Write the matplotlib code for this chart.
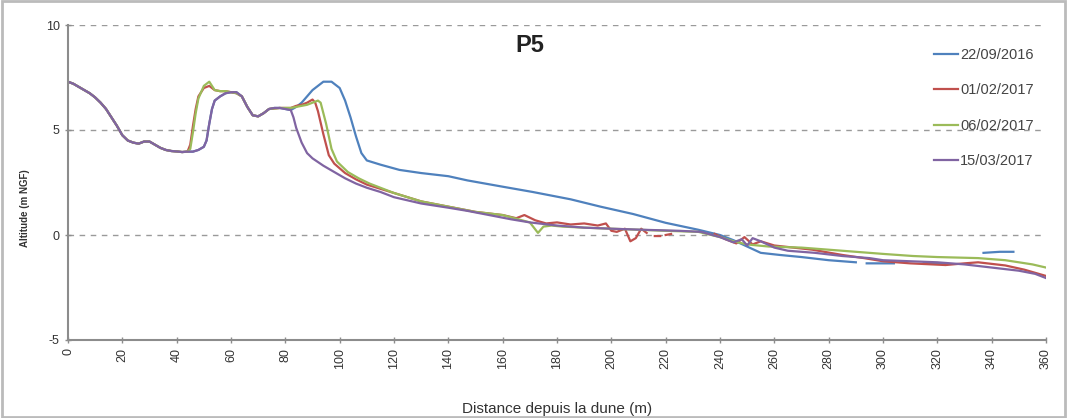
import numpy as np
import matplotlib
matplotlib.use("Agg")
import matplotlib.pyplot as plt
from matplotlib.patches import Rectangle

nan = np.nan

labels = ["22/09/2016", "01/02/2017", "06/02/2017", "15/03/2017"]
colors = ["#4F81BD", "#C0504D", "#9BBB59", "#8064A2"]

# 22/09/2016
x1 = [0, 2, 4, 6, 8, 10, 12, 14, 16, 18, 20, 22, 24, 26, 28, 30, 32, 34, 36, 38, 40, 42, 44,
      46, 48, 50, 51, 52, 53, 54, 56, 58, 60, 62, 64, 66, 68, 70, 72, 74, 76, 78, 80, 82,
      84, 86, 88, 90, 92, 94, 97, 100, 102, 104, 106, 108, 110, 115, 122, 130, 140, 147,
      160, 171, 185, 196, 208, 220, 232, 240, 245, 250, 255, 262, 270, 280, 290, 292,
      294, 304, 309, 315, 323, 330, 337, 343, 348]
y1 = [7.3, 7.2, 7.05, 6.9, 6.75, 6.55, 6.3, 6.0, 5.6, 5.2, 4.75, 4.5, 4.4, 4.35, 4.45, 4.45, 4.3, 4.15, 4.05, 4.0, 3.98, 3.95, 3.97,
      3.97, 4.05, 4.2, 4.5, 5.3, 6.0, 6.4, 6.6, 6.75, 6.8, 6.8, 6.6, 6.1, 5.7, 5.65, 5.8, 6.0, 6.05, 6.05, 6.0, 5.95,
      6.1, 6.3, 6.6, 6.9, 7.1, 7.3, 7.3, 7.0, 6.4, 5.6, 4.7, 3.9, 3.55, 3.35, 3.1, 2.95, 2.8, 2.6,
      2.3, 2.05, 1.7, 1.35, 1.0, 0.58, 0.25, 0.0, -0.25, -0.55, -0.85, -0.95, -1.05, -1.2, -1.3, nan,
      -1.35, -1.35, nan, -1.35, -1.35, nan, -0.85, -0.8, -0.8]

# 01/02/2017
x2 = [0, 2, 4, 6, 8, 10, 12, 14, 16, 18, 20, 22, 24, 26, 28, 30, 32, 34, 36, 38, 40, 42, 44,
      45, 46, 47, 48, 50, 52, 54, 56, 58, 60, 62, 64, 66, 68, 70, 72, 74, 78, 82,
      84, 86, 88, 90, 91, 92, 94, 96, 98, 102, 106, 110, 115, 120, 130, 140, 150, 160,
      165, 168, 172, 176, 180, 185, 190, 195, 198, 200, 202, 205, 207, 209, 211, 213, 214,
      216, 218, 219, 220, 222, 224, 238, 242, 246, 249, 252, 255, 260, 274, 285, 293, 300,
      310, 323, 330, 335, 345, 352, 360]
y2 = [7.3, 7.2, 7.05, 6.9, 6.75, 6.55, 6.3, 6.0, 5.6, 5.2, 4.75, 4.5, 4.4, 4.35, 4.45, 4.45, 4.3, 4.15, 4.05, 4.0, 3.98, 3.95, 3.97,
      4.3, 5.2, 6.0, 6.6, 7.0, 7.1, 6.9, 6.85, 6.85, 6.8, 6.75, 6.6, 6.1, 5.7, 5.65, 5.8, 6.0, 6.05, 6.05,
      6.15, 6.2, 6.3, 6.45, 6.3, 5.9, 4.8, 3.8, 3.4, 2.95, 2.65, 2.4, 2.2, 2.0, 1.6, 1.35, 1.1, 0.95,
      0.8, 0.95, 0.7, 0.55, 0.6, 0.5, 0.55, 0.45, 0.55, 0.2, 0.15, 0.3, -0.3, -0.15, 0.3, 0.1, nan,
      -0.05, -0.05, nan, 0.0, 0.05, nan, 0.05, -0.2, -0.4, -0.1, -0.45, -0.3, -0.5, -0.7, -0.95, -1.1, -1.25,
      -1.35, -1.43, -1.35, -1.3, -1.45, -1.65, -1.95]

# 06/02/2017
x3 = [0, 2, 4, 6, 8, 10, 12, 14, 16, 18, 20, 22, 24, 26, 28, 30, 32, 34, 36, 38, 40, 42, 44,
      45, 46, 47, 48, 50, 52, 54, 56, 58, 60, 62, 64, 66, 68, 70, 72, 74, 78, 82,
      84, 86, 88, 90, 92, 93, 95, 97, 99, 103, 107, 111, 115, 120, 130, 140, 150, 160,
      170, 173, 175, 178, 182, 190, 200, 210, 220, 232, 240, 245, 250, 258, 270, 280, 290, 300,
      311, 320, 335, 345, 355, 360]
y3 = [7.3, 7.2, 7.05, 6.9, 6.75, 6.55, 6.3, 6.0, 5.6, 5.2, 4.75, 4.5, 4.4, 4.35, 4.45, 4.45, 4.3, 4.15, 4.05, 4.0, 3.98, 3.95, 3.97,
      4.1, 4.9, 5.8, 6.5, 7.1, 7.3, 6.9, 6.85, 6.85, 6.8, 6.75, 6.6, 6.1, 5.7, 5.65, 5.8, 6.0, 6.05, 6.05,
      6.1, 6.15, 6.2, 6.3, 6.4, 6.3, 5.3, 4.1, 3.5, 3.0, 2.7, 2.45, 2.25, 2.0, 1.6, 1.35, 1.1, 0.95,
      0.6, 0.1, 0.4, 0.45, 0.4, 0.35, 0.3, 0.25, 0.2, 0.15, -0.1, -0.3, -0.45, -0.55, -0.6, -0.7, -0.8, -0.9,
      -1.0, -1.05, -1.1, -1.2, -1.4, -1.55]

# 15/03/2017
x4 = [0, 2, 4, 6, 8, 10, 12, 14, 16, 18, 20, 22, 24, 26, 28, 30, 32, 34, 36, 38, 40, 42, 44,
      46, 48, 50, 51, 52, 53, 54, 56, 58, 60, 62, 64, 66, 68, 70, 72, 74, 76, 78, 80, 82,
      83, 84, 86, 88, 90, 94, 98, 102, 106, 110, 115, 120, 130, 140, 147, 155, 163, 170, 180,
      190, 200, 214, 225, 233, 240, 245, 248, 250, 252, 255, 260, 265, 275, 285, 295, 300,
      310, 320, 330, 340, 350, 356, 360]
y4 = [7.3, 7.2, 7.05, 6.9, 6.75, 6.55, 6.3, 6.0, 5.6, 5.2, 4.75, 4.5, 4.4, 4.35, 4.45, 4.45, 4.3, 4.15, 4.05, 4.0, 3.98, 3.95, 3.97,
      3.97, 4.05, 4.2, 4.5, 5.3, 6.0, 6.4, 6.6, 6.75, 6.8, 6.8, 6.6, 6.1, 5.7, 5.65, 5.8, 6.0, 6.05, 6.05, 6.0, 5.95,
      5.6, 5.1, 4.4, 3.9, 3.65, 3.3, 3.0, 2.7, 2.45, 2.25, 2.05, 1.8, 1.5, 1.3, 1.15, 0.95, 0.75, 0.6, 0.45,
      0.35, 0.3, 0.24, 0.2, 0.15, -0.1, -0.35, -0.2, -0.5, -0.15, -0.3, -0.6, -0.75, -0.85, -1.0, -1.1, -1.2,
      -1.25, -1.3, -1.4, -1.55, -1.7, -1.85, -2.05]

xs = [x1, x2, x3, x4]
ys = [y1, y2, y3, y4]

xticks = list(range(0, 361, 20))
yticks = [-5, 0, 5, 10]

plt.rcParams['font.family'] = ['Liberation Sans', 'DejaVu Sans']

fig = plt.figure(figsize=(10.67, 4.18), dpi=100)
ax = fig.add_axes([68/1067, 1-340/418, (1046-68)/1067, (340-25)/418])

for x, y, c, lab in zip(xs, ys, colors, labels):
    ax.plot(x, y, color=c, lw=1.6, label=lab)

ax.set_xlim(0, 360)
ax.set_ylim(-5, 10)
ax.set_xticks(xticks)
ax.set_xticklabels([str(t) for t in xticks], rotation=90, fontsize=9)
ax.set_yticks(yticks)
ax.set_yticklabels([str(t) for t in yticks], fontsize=9)

for yv in [0, 5, 10]:
    ax.axhline(yv, color="#9a9a9a", lw=1.0, ls=(0, (4, 4)), zorder=0)

for s in ["top", "right"]:
    ax.spines[s].set_visible(False)
for s in ["left", "bottom"]:
    ax.spines[s].set_color("#8c8c8c")
    ax.spines[s].set_linewidth(1.5)
ax.tick_params(colors="#8c8c8c", direction="inout", length=5, width=1, labelcolor="#333333")

ax.set_ylabel("Altitude (m NGF)", fontsize=7, fontweight="bold", color="#333333")
ax.yaxis.set_label_coords(-0.039, 0.42)
ax.set_xlabel("Distance depuis la dune (m)", fontsize=11, color="#333333")
ax.xaxis.set_label_coords(0.5, -0.198)

ax.text(0.472, 0.935, "P5", transform=ax.transAxes, fontsize=17, fontweight="bold",
        ha="center", va="center", color="#222222")

leg = ax.legend(loc="upper left", bbox_to_anchor=(0.872, 0.969), frameon=False,
                fontsize=10.5, labelspacing=1.47, handlelength=1.65, handletextpad=0.15)
for t in leg.get_texts():
    t.set_color("#444444")

fig.patches.append(Rectangle((0.002, 0.003), 0.996, 0.994, transform=fig.transFigure,
                             fill=False, edgecolor="#bbbbbb", lw=2))

fig.savefig("out.png", dpi=100)
